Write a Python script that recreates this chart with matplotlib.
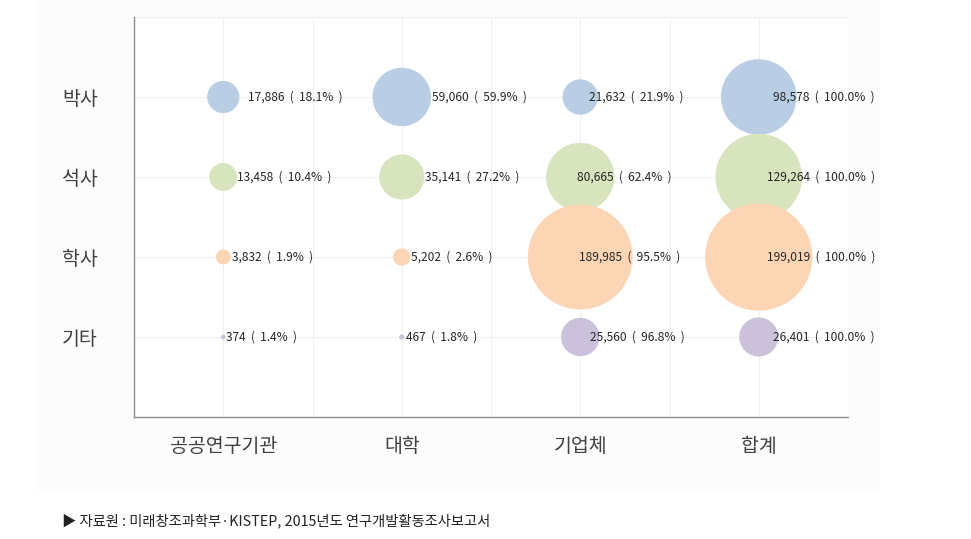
"""Bubble chart: R&D researchers by degree and sector (2015)."""

import matplotlib

matplotlib.use("Agg")
import matplotlib.pyplot as plt
from matplotlib.patches import Rectangle

plt.rcParams["font.family"] = ["Noto Sans CJK KR", "DejaVu Sans"]

sectors = ["공공연구기관", "대학", "기업체", "합계"]
degrees = ["박사", "석사", "학사", "기타"]

# researchers per degree, one value per sector
phd = [17886, 59060, 21632, 98578]
master = [13458, 35141, 80665, 129264]
bachelor = [3832, 5202, 189985, 199019]
other = [374, 467, 25560, 26401]

phd_pct = [18.1, 59.9, 21.9, 100.0]
master_pct = [10.4, 27.2, 62.4, 100.0]
bachelor_pct = [1.9, 2.6, 95.5, 100.0]
other_pct = [1.4, 1.8, 96.8, 100.0]

source = "▶ 자료원 : 미래창조과학부·KISTEP, 2015년도 연구개발활동조사보고서"

# layout / style
_ROWS = [
    (phd, phd_pct, "#b9cde5", [25, 30, 9, 14]),
    (master, master_pct, "#d7e4bd", [14, 23, -3, 8]),
    (bachelor, bachelor_pct, "#fcd5b5", [9, 9, -1, 8]),
    (other, other_pct, "#ccc1da", [3, 4, 10, 14]),
]
SIZE_PER_UNIT = 0.0300  # marker area (pt^2) per researcher

fig = plt.figure(figsize=(9.71, 5.39), dpi=100)
bg = Rectangle((35 / 971, 1 - 490 / 539), 845 / 971, 490 / 539,
               transform=fig.transFigure, facecolor="#fcfcfc", edgecolor="none", zorder=-5)
fig.add_artist(bg)
ax = fig.add_axes([134 / 971, 1 - 417 / 539, 714 / 971, 400 / 539])
ax.set_facecolor("white")

xs = list(range(1, len(sectors) + 1))
n = len(degrees)
for i, (vals, pcts, color, offs) in enumerate(_ROWS):
    y = n - i
    ax.scatter(xs, [y] * len(xs), s=[v * SIZE_PER_UNIT for v in vals],
               color=color, edgecolors="none", zorder=3 + i)
    for x, v, p, dx in zip(xs, vals, pcts, offs):
        ax.annotate(f"{v:,}  (  {p:.1f}%  )", (x, y), xytext=(dx * 0.72, 0),
                    textcoords="offset points", ha="left", va="center",
                    fontsize=8.6, color="#262626", zorder=10)

ax.set_xlim(0.5, len(sectors) + 0.5)
ax.set_ylim(0, n + 1)
ax.set_xticks(xs)
ax.set_xticklabels(sectors, fontsize=14, color="#404040")
ax.set_yticks(range(n, 0, -1))
ax.set_yticklabels(degrees, fontsize=14, color="#404040")
ax.tick_params(length=0)
ax.tick_params(axis="x", pad=14)
ax.tick_params(axis="y", pad=26)

# light grid every half category and every row
for k in range(2 * len(sectors) + 1):
    ax.axvline(0.5 + 0.5 * k, color="#f0f0f0", linewidth=0.8, zorder=0)
for k in range(1, n + 2):
    ax.axhline(k, color="#f0f0f0", linewidth=0.8, zorder=0)

for side in ("top", "right"):
    ax.spines[side].set_visible(False)
for side in ("left", "bottom"):
    ax.spines[side].set_color("#8c8c8c")
    ax.spines[side].set_linewidth(1.0)
    ax.spines[side].set_zorder(20)

fig.text(62 / 971, 1 - 521 / 539, source, fontsize=10.3, color="#222222",
         ha="left", va="center")

fig.savefig("out.png", dpi=100)
